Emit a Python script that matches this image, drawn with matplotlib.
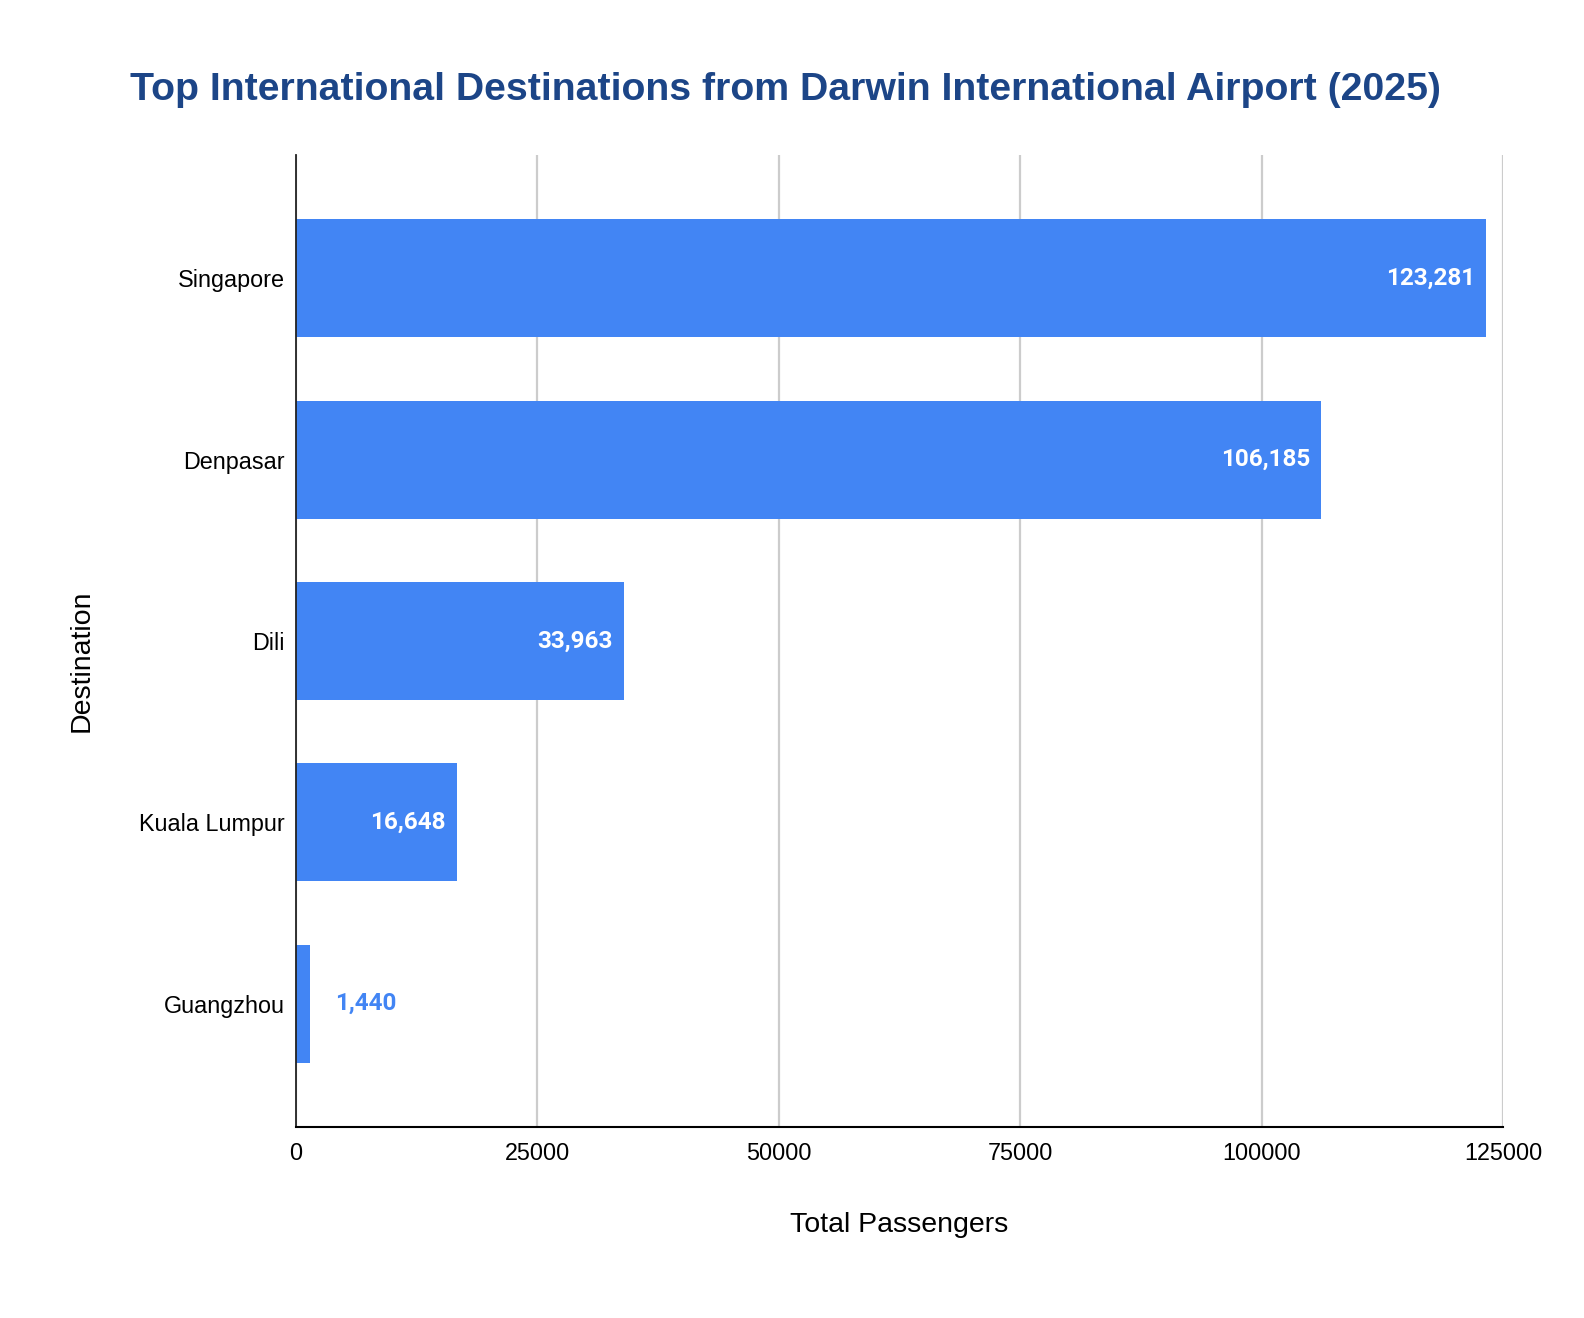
import matplotlib
matplotlib.use("Agg")
import matplotlib.pyplot as plt

destinations = ["Singapore", "Denpasar", "Dili", "Kuala Lumpur", "Guangzhou"]
passengers = [123281, 106185, 33963, 16648, 1440]
xticks = [0, 25000, 50000, 75000, 100000, 125000]

bar_color = "#4285f4"
fig = plt.figure(figsize=(15.84, 13.18), dpi=100)
ax = fig.add_axes([296/1584, 1-1127/1318, (1503-296)/1584, (1127-155)/1318])

ypos = list(range(len(destinations)))
ax.barh(ypos, passengers, height=0.65, color=bar_color, zorder=3)
ax.set_ylim(len(destinations) - 1 + 0.68, -0.68)
ax.set_xlim(0, 125000)
ax.set_xticks(xticks)
ax.set_xticklabels([str(t) for t in xticks], fontsize=16.8, family="Liberation Sans")
ax.set_yticks(ypos)
ax.set_yticklabels(destinations, fontsize=16.8, family="Liberation Sans")
ax.tick_params(axis="y", length=0, pad=8)
ax.tick_params(axis="x", length=0, pad=11)
ax.xaxis.grid(True, color="#cccccc", linewidth=1.6, zorder=0)
ax.yaxis.grid(False)
for s in ["top", "right"]:
    ax.spines[s].set_visible(False)
ax.spines["left"].set_color("#222222")
ax.spines["left"].set_linewidth(1.3)
ax.spines["bottom"].set_color("black")
ax.spines["bottom"].set_linewidth(1.5)
ax.spines["left"].set_zorder(4)
ax.spines["bottom"].set_zorder(4)

for y, v in zip(ypos, passengers):
    label = f"{v:,}"
    if v > 10000:
        ax.annotate(label, (v, y), xytext=(-8, 0), textcoords="offset points",
                    ha="right", va="center", color="white", fontsize=17.5,
                    fontweight="bold", family="Roboto", zorder=5)
    else:
        ax.annotate(label, (v, y), xytext=(18, 0), textcoords="offset points",
                    ha="left", va="center", color=bar_color, fontsize=17.5,
                    fontweight="bold", family="Roboto", zorder=5)

fig.text(899/1584, 1-1225/1318, "Total Passengers", ha="center", va="center",
         fontsize=20.5, family="Liberation Sans")
fig.text(82/1584, 1-661/1318, "Destination", ha="center", va="center",
         rotation=90, fontsize=20.5, family="Liberation Sans")
fig.text(785/1584, 1-90/1318, "Top International Destinations from Darwin International Airport (2025)",
         ha="center", va="center", fontsize=28.3, fontweight="bold", color="#1c4587",
         family="Liberation Sans")

fig.savefig("out.png", dpi=100, facecolor="white")
